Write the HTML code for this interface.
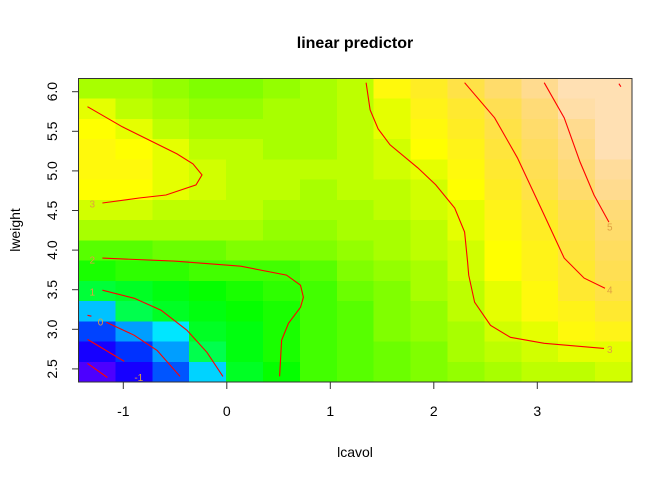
<!DOCTYPE html>
<html><head><meta charset="utf-8">
<style>
html,body{margin:0;padding:0;background:#fff;}
svg{display:block;font-family:"Liberation Sans",Arial,sans-serif;}
</style></head>
<body>
<svg id="chart" width="672" height="480" viewBox="0 0 672 480" xmlns="http://www.w3.org/2000/svg">
<text x="355" y="48" text-anchor="middle" font-size="16" font-weight="bold">linear predictor</text>
<text x="355" y="457" text-anchor="middle" font-size="14">lcavol</text>
<text x="20" y="230" text-anchor="middle" font-size="14" transform="rotate(-90 20 230)">lweight</text>
<g id="cells" shape-rendering="crispEdges"></g>
<g id="contours"></g>
<g id="axes"></g>
<rect x="78.5" y="78.5" width="553.5" height="303.5" fill="none" stroke="#333" stroke-width="1"/>
</svg>
<script>
// grid of predictor values (rows top->bottom: lweight 6.03 .. 2.48; cols lcavol -1.25 .. 3.70)
const gridCols = [-1.25,-0.90,-0.55,-0.19,0.16,0.51,0.87,1.22,1.58,1.93,2.28,2.64,2.99,3.35,3.70];
const gridRows = [6.03,5.78,5.52,5.27,5.01,4.76,4.51,4.25,4.00,3.75,3.49,3.24,2.99,2.73,2.48];
const zValues = [
[2.7,2.6,2.5,2.4,2.4,2.5,2.6,2.8,3.3,3.6,3.95,4.3,4.8,5.3,5.7],
[3.0,2.8,2.6,2.5,2.5,2.6,2.7,2.85,3.1,3.4,3.75,4.1,4.55,5.05,5.5],
[3.15,3.0,2.8,2.65,2.6,2.6,2.7,2.8,3.05,3.3,3.6,3.95,4.35,4.8,5.3],
[3.25,3.15,3.0,2.85,2.75,2.7,2.7,2.8,2.95,3.2,3.5,3.8,4.2,4.6,5.1],
[3.3,3.25,3.1,2.95,2.85,2.75,2.75,2.8,2.9,3.05,3.35,3.7,4.05,4.45,4.9],
[3.2,3.15,3.05,2.9,2.8,2.75,2.7,2.75,2.85,2.95,3.2,3.55,3.9,4.3,4.75],
[2.95,2.9,2.85,2.8,2.75,2.7,2.65,2.7,2.8,2.9,3.1,3.4,3.75,4.15,4.55],
[2.6,2.6,2.6,2.6,2.6,2.55,2.55,2.6,2.7,2.8,3.0,3.3,3.6,3.95,4.35],
[2.2,2.2,2.25,2.3,2.35,2.35,2.4,2.5,2.6,2.75,2.95,3.2,3.5,3.85,4.2],
[1.8,1.85,1.9,1.95,2.0,2.05,2.2,2.35,2.5,2.65,2.9,3.15,3.45,3.75,4.05],
[1.2,1.35,1.5,1.6,1.75,1.85,2.05,2.25,2.4,2.6,2.85,3.1,3.35,3.65,3.9],
[0.7,1.05,1.3,1.45,1.6,1.8,2.0,2.2,2.35,2.55,2.75,3.0,3.25,3.45,3.65],
[-0.2,0.4,1.0,1.3,1.5,1.7,2.0,2.2,2.35,2.5,2.7,2.9,3.05,3.25,3.4],
[-0.9,-0.3,0.5,1.15,1.45,1.7,2.0,2.2,2.3,2.45,2.6,2.75,2.9,3.0,3.1],
[-1.6,-0.9,-0.1,0.9,1.4,1.65,1.95,2.2,2.3,2.4,2.5,2.6,2.75,2.85,2.95]
];
const xTicks = [-1,0,1,2,3];
const yTicks = [2.5,3.0,3.5,4.0,4.5,5.0,5.5,6.0];
const yTickLabels = ["2.5","3.0","3.5","4.0","4.5","5.0","5.5","6.0"];
// contour lines [lcavol, lweight]
const contourRight3 = [[1.346,6.114],[1.385,5.772],[1.462,5.532],[1.577,5.329],[1.846,5.038],[2.019,4.823],[2.202,4.532],[2.298,4.228],[2.327,3.848],[2.337,3.684],[2.394,3.342],[2.548,3.051],[2.740,2.899],[3.067,2.823],[3.644,2.759]];
const contour4 = [[2.298,6.114],[2.587,5.671],[2.808,5.165],[3.067,4.443],[3.260,3.899],[3.452,3.646],[3.654,3.519]];
const contour5 = [[3.067,6.114],[3.260,5.671],[3.413,5.114],[3.548,4.696],[3.692,4.354]];
const contour6 = [[3.788,6.101],[3.808,6.063]];
const contourLeft3 = [[-1.346,5.810],[-1.010,5.557],[-0.481,5.215],[-0.327,5.089],[-0.240,4.949],[-0.298,4.823],[-0.587,4.696],[-0.846,4.658],[-1.202,4.595]];
const contour2 = [[-1.202,3.899],[-0.510,3.861],[0.135,3.797],[0.577,3.684],[0.712,3.557],[0.740,3.405],[0.712,3.278],[0.596,3.076],[0.529,2.861],[0.510,2.405]];
const contour1 = [[-1.202,3.494],[-0.894,3.392],[-0.635,3.241],[-0.385,2.987],[-0.192,2.709],[-0.038,2.405]];
const contour0 = [[-1.163,3.089],[-0.894,2.924],[-0.673,2.734],[-0.452,2.405]];
const contour0b = [[-1.346,3.177],[-1.308,3.165]];
const contourM1 = [[-1.346,2.873],[-0.990,2.595]];
const contourM2 = [[-1.346,2.570],[-1.154,2.392]];
const contourLabels = [["3",-1.30,4.59],["2",-1.30,3.88],["1",-1.30,3.48],["0",-1.22,3.10],["-1",-0.85,2.40],["3",3.70,2.75],["4",3.70,3.50],["5",3.70,4.30]];

const NS="http://www.w3.org/2000/svg";
const X0=78.5, X1=632, Y0=78.5, Y1=382;
function sx(v){return 226.8+(v)*103.5;}
function sy(v){return 91.7+(6-v)*79.2;}
const zMin=-1.3, zMax=5.2;
function hsv(h,s,v){
  const i=Math.floor(h*6),f=h*6-i,p=v*(1-s),q=v*(1-f*s),t=v*(1-(1-f)*s);
  let r,g,b;[r,g,b]=[[v,t,p],[q,v,p],[p,v,t],[p,q,v],[t,p,v],[v,p,q]][i%6];
  return "rgb("+Math.round(r*255)+","+Math.round(g*255)+","+Math.round(b*255)+")";
}
const pal=[];
(function(){const j=16,k=16,i=18;
 for(let a=0;a<i;a++)pal.push(hsv(43/60-(12/60)*a/(i-1),1,1));
 for(let a=0;a<j;a++)pal.push(hsv(23/60-(12/60)*a/(j-1),1,1));
 for(let a=0;a<k;a++)pal.push(hsv(10/60-(4/60)*a/(k-1),1-0.7*a/(k-1),1));})();
function col(z){let b=Math.floor((z-zMin)/(zMax-zMin)*50);b=Math.max(0,Math.min(49,b));return pal[b];}

const cells=document.getElementById('cells');
const cw=(X1-X0)/gridCols.length, ch=(Y1-Y0)/gridRows.length;
gridRows.forEach((ry,ri)=>{gridCols.forEach((cx,ci)=>{
  const r=document.createElementNS(NS,'rect');
  
  
  const px=X0+ci*cw, py=Y0+ri*ch;
  r.setAttribute('x',px.toFixed(2));r.setAttribute('y',py.toFixed(2));
  r.setAttribute('width',(cw+0.5).toFixed(2));r.setAttribute('height',(ch+0.5).toFixed(2));
  r.setAttribute('fill',col(zValues[ri][ci]));
  cells.appendChild(r);
});});

const cg=document.getElementById('contours');
[contourRight3,contour4,contour5,contour6,contourLeft3,contour2,contour1,contour0,contour0b,contourM1,contourM2].forEach(pts=>{
  const p=document.createElementNS(NS,'polyline');
  
  
  p.setAttribute('points',pts.map(d=>sx(d[0]).toFixed(1)+','+sy(d[1]).toFixed(1)).join(' '));
  p.setAttribute('fill','none');p.setAttribute('stroke','#ff0000');p.setAttribute('stroke-width','1.1');
  cg.appendChild(p);
});
contourLabels.forEach(l=>{
  const t=document.createElementNS(NS,'text');
  
  
  t.setAttribute('x',sx(l[1]).toFixed(1));t.setAttribute('y',(sy(l[2])+4).toFixed(1));
  t.setAttribute('font-size','10');t.setAttribute('fill','#e0a040');t.setAttribute('text-anchor','middle');
  t.textContent=l[0];cg.appendChild(t);
});

const ax=document.getElementById('axes');
xTicks.forEach(v=>{
  const l=document.createElementNS(NS,'line');
  
  
  l.setAttribute('x1',sx(v));l.setAttribute('x2',sx(v));l.setAttribute('y1',382);l.setAttribute('y2',389);
  l.setAttribute('stroke','#333');ax.appendChild(l);
  const t=document.createElementNS(NS,'text');
  
  
  t.setAttribute('x',sx(v));t.setAttribute('y',416);t.setAttribute('text-anchor','middle');t.setAttribute('font-size','14');
  t.textContent=String(v);ax.appendChild(t);
});
yTicks.forEach((v,i)=>{
  const l=document.createElementNS(NS,'line');
  
  
  l.setAttribute('x1',72);l.setAttribute('x2',78.5);l.setAttribute('y1',sy(v));l.setAttribute('y2',sy(v));
  l.setAttribute('stroke','#333');ax.appendChild(l);
  const t=document.createElementNS(NS,'text');
  
  
  t.setAttribute('x',57);t.setAttribute('y',sy(v));t.setAttribute('text-anchor','middle');t.setAttribute('font-size','14');
  t.setAttribute('transform','rotate(-90 57 '+sy(v)+')');
  t.textContent=yTickLabels[i];ax.appendChild(t);
});
</script>
</body></html>
